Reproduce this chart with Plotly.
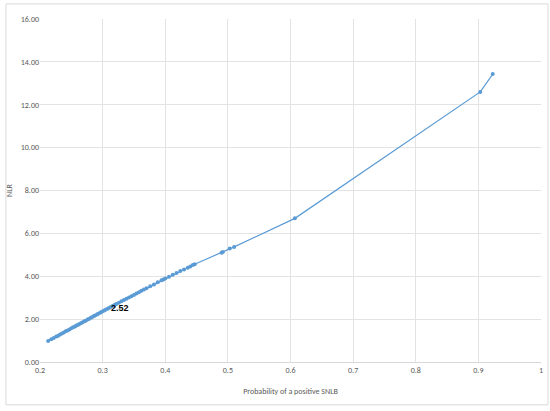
import plotly.graph_objects as go

prob = [0.213, 0.218, 0.222, 0.226, 0.229, 0.232, 0.235, 0.238, 0.241, 0.244,
        0.247, 0.250, 0.253, 0.256, 0.258, 0.261, 0.263, 0.266, 0.268, 0.271,
        0.273, 0.276, 0.278, 0.281, 0.283, 0.286, 0.288, 0.291, 0.293, 0.296,
        0.298, 0.301, 0.304, 0.307, 0.310, 0.313, 0.316, 0.319, 0.322, 0.326,
        0.330, 0.334, 0.338, 0.342, 0.346, 0.350, 0.354, 0.358, 0.362, 0.366,
        0.370, 0.376, 0.382, 0.388, 0.394, 0.397, 0.400, 0.406, 0.412, 0.418,
        0.424, 0.430, 0.436, 0.440, 0.444, 0.447, 0.490, 0.492, 0.503, 0.510,
        0.607, 0.903, 0.923]
nlr = [0.98, 1.06, 1.12, 1.19, 1.23, 1.28, 1.33, 1.38, 1.43, 1.47,
       1.52, 1.57, 1.62, 1.66, 1.70, 1.74, 1.77, 1.82, 1.85, 1.90,
       1.93, 1.98, 2.01, 2.06, 2.09, 2.14, 2.17, 2.22, 2.25, 2.30,
       2.33, 2.38, 2.43, 2.47, 2.52, 2.57, 2.61, 2.66, 2.70, 2.76,
       2.83, 2.89, 2.95, 3.01, 3.07, 3.13, 3.19, 3.25, 3.32, 3.38,
       3.44, 3.53, 3.62, 3.72, 3.81, 3.85, 3.90, 3.98, 4.07, 4.15,
       4.24, 4.32, 4.40, 4.46, 4.52, 4.56, 5.10, 5.13, 5.30, 5.37,
       6.70, 12.60, 13.43]
x_ticks = [0.2, 0.3, 0.4, 0.5, 0.6, 0.7, 0.8, 0.9, 1.0]
x_tick_labels = ["0.2", "0.3", "0.4", "0.5", "0.6", "0.7", "0.8", "0.9", "1"]
label_x = 0.310
label_y = 2.52
label_text = "2.52"

font_color = "#595959"
grid = "#e3e3e3"

fig = go.Figure()
fig.add_trace(go.Scatter(
    x=prob, y=nlr, mode="lines+markers",
    line=dict(color="#5b9bd5", width=1.2),
    marker=dict(color="#5b9bd5", size=4),
    showlegend=False, hoverinfo="x+y"))

fig.add_annotation(x=label_x, y=label_y, text="<b>" + label_text + "</b>",
                   showarrow=False, xanchor="left", yanchor="middle", xshift=0,
                   font=dict(family="Liberation Sans, Arial", size=9, color="#000000"))

fig.update_layout(
    width=550, height=411,
    margin=dict(l=40, r=9, t=19, b=49),
    paper_bgcolor="white", plot_bgcolor="white",
    font=dict(family="Carlito, Liberation Sans, Arial", size=8, color=font_color),
    xaxis=dict(range=[0.2, 1.0], tickvals=x_ticks, ticktext=x_tick_labels,
               showgrid=True, gridcolor=grid, automargin=False,
               gridwidth=1, zeroline=False, showline=True, linecolor="#d9d9d9",
               ticks="", tickfont=dict(size=8, color=font_color),
               title=dict(text="Probability of a positive SNLB", font=dict(size=8, color=font_color), standoff=14)),
    yaxis=dict(range=[0, 16], dtick=2, tickformat=".2f", showgrid=True, gridcolor=grid,
               gridwidth=1, zeroline=False, showline=False, ticks="", automargin=False,
               tickfont=dict(size=8, color=font_color),
               title=dict(text="NLR", font=dict(size=8, color=font_color), standoff=6)),
    shapes=[dict(type="rect", xref="paper", yref="paper",
                 x0=-0.068, x1=1.014, y0=-0.125, y1=1.044,
                 line=dict(color="#d9d9d9", width=1), fillcolor="rgba(0,0,0,0)", layer="below")],
)

fig.write_html("out.html", config={"displayModeBar": False},
               post_script="document.body.style.margin='0';document.body.style.padding='0';")
